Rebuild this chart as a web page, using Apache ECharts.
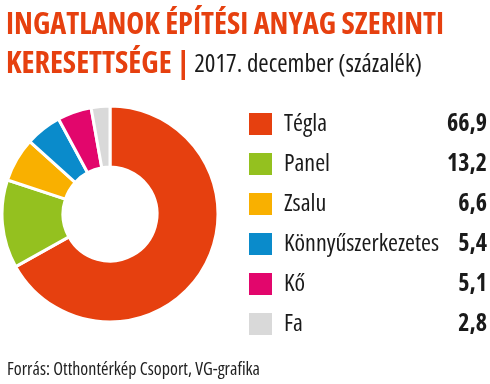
<!DOCTYPE html>
<html><head><meta charset="utf-8">
<script src="https://cdn.jsdelivr.net/npm/echarts@6/dist/echarts.min.js"></script>
<style>html,body{margin:0;padding:0;background:#fff}#c{width:490px;height:384px}</style>
</head><body><div id="c"></div>
<script>
const categories = ['Tégla','Panel','Zsalu','Könnyűszerkezetes','Kő','Fa'];
const values = [66.9, 13.2, 6.6, 5.4, 5.1, 2.8];
const valueLabels = ['66,9','13,2','6,6','5,4','5,1','2,8'];
const colors = ['#E6400F','#94C11F','#F9B000','#0A8BCB','#E2066C','#D9D9D9'];
const FONT = '"Open Sans",sans-serif';

const chart = echarts.init(document.getElementById('c'));
chart.setOption({
  animation: false,
  color: colors,
  title: [{
    left: 1, top: 1,
    text: '{a|INGATLANOK ÉPÍTÉSI ANYAG SZERINTI}\n{a|KERESETTSÉGE |}{b| 2017. december (százalék)}',
    textStyle: {
      rich: {
        a: {fontFamily: FONT, fontWeight: 'bold condensed', fontSize: 30.3, color: '#E6400F', lineHeight: 39},
        b: {fontFamily: FONT, fontWeight: '500 condensed', fontSize: 25, color: '#1a1a1a', lineHeight: 39}
      }
    }
  }, {
    left: 2, top: 356,
    text: 'Forrás: Otthontérkép Csoport, VG-grafika',
    textStyle: {fontFamily: FONT, fontWeight: 'normal condensed', fontSize: 18, color: '#222'}
  }],
  legend: {
    orient: 'vertical',
    left: 247, top: 111, padding: 0,
    icon: 'rect',
    itemWidth: 25, itemHeight: 24, itemGap: 14,
    selectedMode: false,
    data: categories,
    formatter: function (name) {
      const i = categories.indexOf(name);
      return '{n|' + name + '}{v|' + valueLabels[i] + '}';
    },
    textStyle: {
      rich: {
        n: {fontFamily: FONT, fontWeight: '500 condensed', fontSize: 24, color: '#1a1a1a', width: 155, padding: [0,0,0,6]},
        v: {fontFamily: FONT, fontWeight: 'bold condensed', fontSize: 24, color: '#1a1a1a', width: 48, align: 'right'}
      }
    }
  },
  series: [{
    type: 'pie',
    center: [110, 214],
    radius: [47, 108],
    startAngle: 90,
    clockwise: true,
    label: {show: false},
    labelLine: {show: false},
    emphasis: {disabled: true},
    itemStyle: {borderColor: '#fff', borderWidth: 3},
    data: categories.map((c, i) => ({name: c, value: values[i]}))
  }]
});
</script></body></html>
